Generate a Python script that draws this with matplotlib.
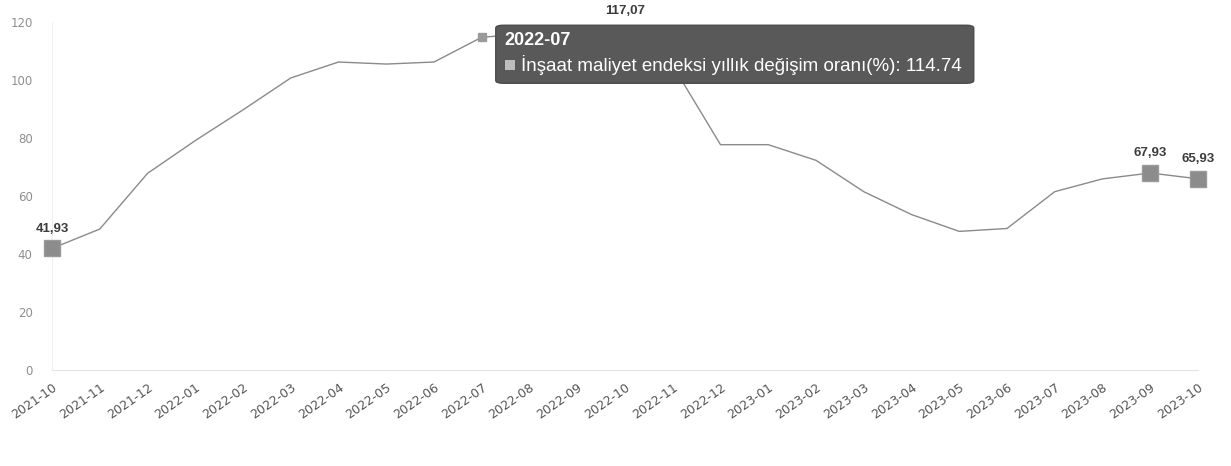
import matplotlib
matplotlib.use("Agg")
import matplotlib.pyplot as plt
from matplotlib.patches import FancyBboxPatch, Rectangle

# ------------------------------------------------------------------------------
# Data: monthly annual change of the construction cost index (%)
# ------------------------------------------------------------------------------
months = [
    "2021-10", "2021-11", "2021-12", "2022-01", "2022-02", "2022-03",
    "2022-04", "2022-05", "2022-06", "2022-07", "2022-08", "2022-09",
    "2022-10", "2022-11", "2022-12", "2023-01", "2023-02", "2023-03",
    "2023-04", "2023-05", "2023-06", "2023-07", "2023-08", "2023-09",
    "2023-10",
]
values = [
    41.93, 48.6, 67.8, 79.1, 89.7, 100.7,
    106.2, 105.5, 106.2, 114.74, 116.0, 115.4,
    117.07, 105.0, 77.7, 77.7, 72.3, 61.5,
    53.6, 47.8, 48.8, 61.5, 65.9, 67.93,
    65.93,
]
yticks = [0, 20, 40, 60, 80, 100, 120]

# points that carry a value label / a square marker
labelled = ["2021-10", "2022-10", "2023-09", "2023-10"]
squared = ["2021-10", "2023-09", "2023-10"]
hovered = "2022-07"
series_name = "İnşaat maliyet endeksi yıllık değişim oranı(%)"

# ------------------------------------------------------------------------------
# Figure
# ------------------------------------------------------------------------------
W, H, DPI = 1231, 466, 100
fig = plt.figure(figsize=(W / DPI, H / DPI), dpi=DPI)
ax = fig.add_axes([52 / W, 1 - 370 / H, (1198 - 52) / W, (370 - 22) / H])

x = list(range(len(months)))
ax.plot(x, values, color="#8a8a8a", lw=1.0, zorder=2, clip_on=False)

for m in squared:
    i = months.index(m)
    ax.plot(i, values[i], marker="s", markersize=11, color="#8c8c8c",
            markeredgecolor="#9a9a9a", zorder=3, clip_on=False)

for m in labelled:
    i = months.index(m)
    ax.annotate(f"{values[i]:.2f}".replace(".", ","), (i, values[i]),
                xytext=(0, 10), textcoords="offset points", ha="center",
                va="bottom", fontsize=9.5, weight="bold", color="#3c3c3c",
                family="Liberation Sans", annotation_clip=False, zorder=5)

ax.set_xlim(0, len(months) - 1)
ax.set_ylim(0, 120)
ax.set_xticks(x)
ax.set_xticklabels(months, rotation=35, ha="right", va="top",
                   rotation_mode="anchor", fontsize=9, color="#555555")
ax.set_yticks(yticks)
ax.set_yticklabels([str(v) for v in yticks], fontsize=8.5, color="#8f8f8f")
ax.tick_params(axis="both", length=0)
ax.tick_params(axis="x", pad=8)
ax.tick_params(axis="y", pad=14)
for s in ["top", "right"]:
    ax.spines[s].set_visible(False)
ax.spines["left"].set_color("#f0f0f0")
ax.spines["bottom"].set_color("#e4e4e4")

# ------------------------------------------------------------------------------
# Tooltip for the hovered month
# ------------------------------------------------------------------------------
hi = months.index(hovered)
ax.plot(hi, values[hi], marker="s", markersize=6, color="#9a9a9a", zorder=4)

px, py = ax.transData.transform((hi, values[hi]))
to_fig = fig.transFigure.inverted()
left, right = px + 14, px + 492
top, bottom = py + 12, py - 46
(fx0, fy0) = to_fig.transform((left, bottom))
(fx1, fy1) = to_fig.transform((right, top))
box = FancyBboxPatch((fx0, fy0), fx1 - fx0, fy1 - fy0,
                     boxstyle="round,pad=0,rounding_size=0.006",
                     transform=fig.transFigure, facecolor="#595959",
                     edgecolor="#4a4a4a", lw=1, zorder=10)
fig.patches.append(box)

tx, ty = to_fig.transform((left + 9, top - 15))
fig.text(tx, ty, hovered, color="white", fontsize=13, weight="bold",
         family="Liberation Sans", va="center", ha="left", zorder=11)
sx0, sy0 = to_fig.transform((left + 9, top - 45))
sx1, sy1 = to_fig.transform((left + 19, top - 35))
fig.patches.append(Rectangle((sx0, sy0), sx1 - sx0, sy1 - sy0,
                             transform=fig.transFigure, facecolor="#bdbdbd",
                             edgecolor="none", zorder=11))
lx, ly = to_fig.transform((left + 25, top - 40))
fig.text(lx, ly, f"{series_name}: {values[hi]:.2f}", color="white",
         fontsize=13.5, family="Liberation Sans", va="center", ha="left",
         zorder=11)

fig.savefig("out.png", dpi=DPI)
